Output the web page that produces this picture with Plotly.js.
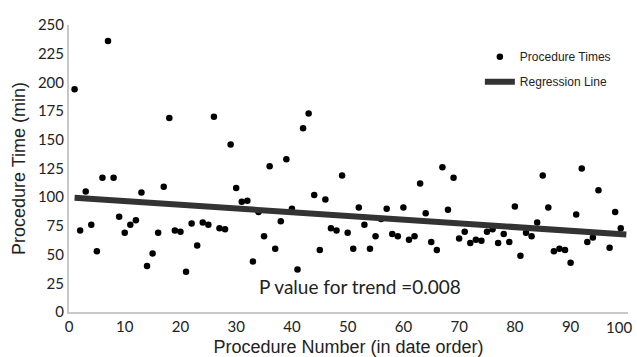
<!DOCTYPE html>
<html>
<head>
<meta charset="utf-8">
<script src="https://cdn.plot.ly/plotly-3.0.1.min.js"></script>
<style>html,body{margin:0;padding:0;background:#fff;}#chart{width:637px;height:357px;}</style>
</head>
<body>
<div id="chart"></div>
<script>
const procedureNumber = [1,2,3,4,5,6,7,8,9,10,11,12,13,14,15,16,17,18,19,20,21,22,23,24,25,26,27,28,29,30,31,32,33,34,35,36,37,38,39,40,41,42,43,44,45,46,47,48,49,50,51,52,53,54,55,56,57,58,59,60,61,62,63,64,65,66,67,68,69,70,71,72,73,74,75,76,77,78,79,80,81,82,83,84,85,86,87,88,89,90,91,92,93,94,95,97,98,99];
const procedureTime = [194,71,105,76,53,117,236,117,83,69,76,80,104,40,51,69,109,169,71,70,35,77,58,78,76,170,73,72,146,108,96,97,44,87,66,127,55,79,133,90,37,160,173,102,54,98,73,71,119,69,55,91,76,55,66,81,90,68,66,91,63,66,112,86,61,54,126,89,117,64,70,60,63,62,70,72,60,68,61,92,49,69,66,78,119,91,53,55,54,43,85,125,61,65,106,56,87,73];
const regressionX = [1,100];
const regressionY = [99.5,67.5];
const xTicks = [0,10,20,30,40,50,60,70,80,90];
const xLastTick = 100;
const yTicks = [0,25,50,75,100,125,150,175,200,225,250];

const traces = [
  {x: procedureNumber, y: procedureTime, type:'scatter', mode:'markers', name:'Procedure Times',
   marker:{color:'#000', size:6.5}, legendgroup:'a', cliponaxis:false},
  {x: regressionX, y: regressionY, type:'scatter', mode:'lines', name:'Regression Line',
   line:{color:'#333', width:6}, legendgroup:'b', cliponaxis:false}
];

const tickFont = {family:'Lato, sans-serif', size:15, color:'#222'};

const layout = {
  width:637, height:357,
  margin:{l:69, r:9, t:25, b:45},
  paper_bgcolor:'#fff', plot_bgcolor:'#fff',
  showlegend:true,
  legend:{x:0.735, y:0.94, xanchor:'left', yanchor:'top', bgcolor:'rgba(0,0,0,0)',
          font:{family:'Liberation Sans, Arial, sans-serif', size:12, color:'#222'},
          tracegroupgap:6},
  xaxis:{range:[0,100.3], tickvals:xTicks, ticktext:xTicks.map(String), showgrid:false, zeroline:false,
         showline:true, linecolor:'#c8c8c8', linewidth:2, ticks:'',
         tickfont:tickFont,
         title:{text:'Procedure Number (in date order)', standoff:6,
                font:{family:'Liberation Sans, Arial, sans-serif', size:18, color:'#222'}}},
  yaxis:{range:[0,250], tickvals:yTicks, ticktext:yTicks.map(String), showgrid:false, zeroline:false,
         showline:true, linecolor:'#c8c8c8', linewidth:2, ticks:'',
         tickfont:tickFont,
         title:{text:'Procedure Time (min)', standoff:8,
                font:{family:'Liberation Sans, Arial, sans-serif', size:18, color:'#222'}}},
  annotations:[
    {x:0.52, y:22, xref:'paper', yref:'y', xanchor:'center', yanchor:'middle',
     text:'P value for trend =0.008', showarrow:false,
     font:{family:'Lato, sans-serif', size:19, color:'#222'}},
    {x:xLastTick, y:0, xref:'x', yref:'paper', xanchor:'center', yanchor:'middle',
     xshift:-7, yshift:-15, text:String(xLastTick), showarrow:false, font:tickFont}
  ]
};
Plotly.newPlot('chart', traces, layout, {displayModeBar:false, staticPlot:true});
</script>
</body>
</html>
